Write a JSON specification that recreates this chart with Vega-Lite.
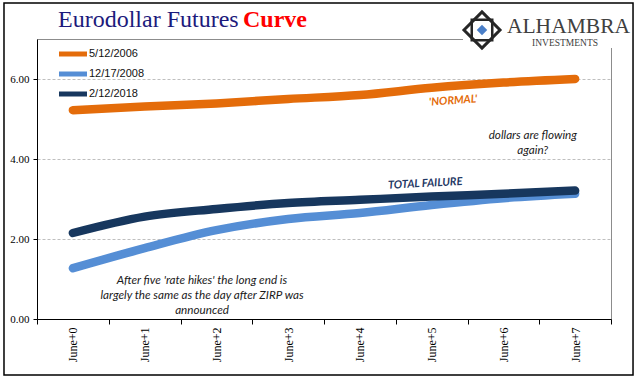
{
  "$schema": "https://vega.github.io/schema/vega-lite/v6.json",
  "width": 574,
  "height": 280,
  "autosize": {"type": "none"},
  "padding": {"left": 37, "top": 39, "right": 30, "bottom": 62},
  "background": "white",
  "config": {
    "view": {"stroke": "#8c8c8c", "strokeWidth": 1},
    "font": "Liberation Serif"
  },
  "datasets": {
    "curves": [
      {"contract": "June+0", "date": "5/12/2006", "rate": 5.22},
      {"contract": "June+1", "date": "5/12/2006", "rate": 5.31},
      {"contract": "June+2", "date": "5/12/2006", "rate": 5.39},
      {"contract": "June+3", "date": "5/12/2006", "rate": 5.5},
      {"contract": "June+4", "date": "5/12/2006", "rate": 5.6},
      {"contract": "June+5", "date": "5/12/2006", "rate": 5.78},
      {"contract": "June+6", "date": "5/12/2006", "rate": 5.91},
      {"contract": "June+7", "date": "5/12/2006", "rate": 6.0},
      {"contract": "June+0", "date": "12/17/2008", "rate": 1.27},
      {"contract": "June+1", "date": "12/17/2008", "rate": 1.77},
      {"contract": "June+2", "date": "12/17/2008", "rate": 2.22},
      {"contract": "June+3", "date": "12/17/2008", "rate": 2.5},
      {"contract": "June+4", "date": "12/17/2008", "rate": 2.65},
      {"contract": "June+5", "date": "12/17/2008", "rate": 2.85},
      {"contract": "June+6", "date": "12/17/2008", "rate": 3.02},
      {"contract": "June+7", "date": "12/17/2008", "rate": 3.13},
      {"contract": "June+0", "date": "2/12/2018", "rate": 2.15},
      {"contract": "June+1", "date": "2/12/2018", "rate": 2.56},
      {"contract": "June+2", "date": "2/12/2018", "rate": 2.75},
      {"contract": "June+3", "date": "2/12/2018", "rate": 2.9},
      {"contract": "June+4", "date": "2/12/2018", "rate": 2.98},
      {"contract": "June+5", "date": "2/12/2018", "rate": 3.06},
      {"contract": "June+6", "date": "2/12/2018", "rate": 3.13},
      {"contract": "June+7", "date": "2/12/2018", "rate": 3.21}
    ],
    "notes": [
      {"kind": "normal", "x": 5.3, "y": 5.45, "text": "'NORMAL'"},
      {"kind": "failure", "x": 4.91, "y": 3.38, "text": "TOTAL FAILURE"},
      {"kind": "plain", "x": 6.41, "y": 4.6, "text": "dollars are flowing\nagain?"},
      {"kind": "plain", "x": 1.8, "y": 0.975, "text": "After five 'rate hikes'  the long end is\nlargely the same as the day after ZIRP was\nannounced"}
    ]
  },
  "layer": [
    {
      "data": {"name": "curves"},
      "mark": {"type": "line", "strokeWidth": 8.5, "strokeCap": "round", "strokeJoin": "round", "interpolate": "monotone"},
      "encoding": {
        "x": {
          "field": "contract",
          "type": "ordinal",
          "bandPosition": 0.5,
          "sort": ["June+0", "June+1", "June+2", "June+3", "June+4", "June+5", "June+6", "June+7"],
          "scale": {"type": "band", "paddingInner": 0, "paddingOuter": 0},
          "axis": {
            "title": null,
            "labelAngle": 270,
            "labelFont": "Liberation Serif",
            "labelFontSize": 12,
            "labelColor": "black",
            "domainColor": "black",
            "tickColor": "black",
            "tickSize": 5,
            "tickBand": "extent",
            "grid": false,
            "labelPadding": 3
          }
        },
        "y": {
          "field": "rate",
          "type": "quantitative",
          "scale": {"domain": [0, 7], "nice": false},
          "axis": {
            "title": null,
            "values": [0, 2, 4, 6],
            "format": ".2f",
            "labelFont": "Liberation Serif",
            "labelFontSize": 11,
            "labelColor": "black",
            "domainColor": "black",
            "tickColor": "black",
            "tickSize": 4,
            "grid": true,
            "gridDash": [3, 2],
            "gridColor": "#bfbfbf",
            "labelPadding": 4
          }
        },
        "color": {
          "field": "date",
          "type": "nominal",
          "scale": {"domain": ["5/12/2006", "12/17/2008", "2/12/2018"], "range": ["#E46C0A", "#558ED5", "#17375E"]},
          "legend": {
            "title": null,
            "orient": "none",
            "legendX": 27,
            "legendY": 6,
            "symbolType": "M-2.24,0H2.24",
            "symbolSize": 156,
            "symbolStrokeWidth": 5,
            "symbolFillColor": "transparent",
            "labelFont": "Liberation Sans",
            "labelFontSize": 11,
            "labelColor": "#111",
            "labelOffset": 7,
            "rowPadding": 0
          }
        }
      }
    },
    {
      "layer": [
        {
          "data": {"values": [{}]},
          "mark": {"type": "rect", "fill": "white", "clip": false},
          "encoding": {
            "x": {"datum": 5.437, "type": "quantitative", "scale": {"domain": [-0.5, 7.5], "nice": false, "zero": false}, "axis": null},
            "x2": {"datum": 7.69},
            "y": {"datum": 6.775, "type": "quantitative", "scale": {"domain": [0, 7], "nice": false}},
            "y2": {"datum": 7.85}
          }
        },
        {
          "data": {"values": [{}]},
          "mark": {"type": "rect", "filled": false, "stroke": "black", "strokeWidth": 1.5, "clip": false},
          "encoding": {
            "x": {"datum": -0.96, "type": "quantitative"},
            "x2": {"datum": 7.807},
            "y": {"datum": -1.4, "type": "quantitative"},
            "y2": {"datum": 7.9}
          }
        },
        {
          "data": {"values": [{}]},
          "mark": {"type": "text", "font": "Liberation Serif", "fontSize": 24, "color": "#1C1A7C", "align": "left", "baseline": "alphabetic", "clip": false},
          "encoding": {
            "x": {"datum": -0.207, "type": "quantitative"},
            "y": {"datum": 7.3, "type": "quantitative"},
            "text": {"value": "Eurodollar Futures"}
          }
        },
        {
          "data": {"values": [{}]},
          "mark": {"type": "text", "font": "Liberation Serif", "fontSize": 24, "fontWeight": "bold", "color": "#FF0000", "align": "left", "baseline": "alphabetic", "clip": false},
          "encoding": {
            "x": {"datum": 2.371, "type": "quantitative"},
            "y": {"datum": 7.3, "type": "quantitative"},
            "text": {"value": "Curve"}
          }
        },
        {
          "data": {"values": [{}]},
          "mark": {"type": "point", "shape": "diamond", "size": 1300, "filled": false, "stroke": "#262626", "strokeWidth": 3, "opacity": 1, "clip": false},
          "encoding": {
            "x": {"datum": 5.702, "type": "quantitative"},
            "y": {"datum": 7.225, "type": "quantitative"}
          }
        },
        {
          "data": {"values": [{}]},
          "mark": {"type": "point", "shape": "square", "size": 420, "filled": false, "stroke": "#262626", "strokeWidth": 2.5, "opacity": 1, "clip": false},
          "encoding": {
            "x": {"datum": 5.702, "type": "quantitative"},
            "y": {"datum": 7.225, "type": "quantitative"}
          }
        },
        {
          "data": {"values": [{}]},
          "mark": {"type": "point", "shape": "diamond", "size": 110, "filled": true, "color": "#4A7FC8", "opacity": 1, "clip": false},
          "encoding": {
            "x": {"datum": 5.702, "type": "quantitative"},
            "y": {"datum": 7.225, "type": "quantitative"}
          }
        },
        {
          "data": {"values": [{}]},
          "mark": {"type": "text", "font": "Liberation Serif", "fontSize": 21.5, "color": "#404040", "align": "left", "baseline": "alphabetic", "clip": false},
          "encoding": {
            "x": {"datum": 6.05, "type": "quantitative"},
            "y": {"datum": 7.14, "type": "quantitative"},
            "text": {"value": "ALHAMBRA"}
          }
        },
        {
          "data": {"values": [{}]},
          "mark": {"type": "text", "font": "Liberation Serif", "fontSize": 9.5, "color": "#404040", "align": "center", "baseline": "alphabetic", "clip": false},
          "encoding": {
            "x": {"datum": 6.86, "type": "quantitative"},
            "y": {"datum": 6.83, "type": "quantitative"},
            "text": {"value": "INVESTMENTS"}
          }
        },
        {
          "data": {"name": "notes"},
          "transform": [{"filter": "datum.kind === 'normal'"}],
          "mark": {"type": "text", "font": "Lato", "fontSize": 11, "fontWeight": "bold", "fontStyle": "italic", "color": "#E46C0A", "angle": 356, "baseline": "middle"},
          "encoding": {
            "x": {"field": "x", "type": "quantitative"},
            "y": {"field": "y", "type": "quantitative"},
            "text": {"field": "text"}
          }
        },
        {
          "data": {"name": "notes"},
          "transform": [{"filter": "datum.kind === 'failure'"}],
          "mark": {"type": "text", "font": "Lato", "fontSize": 11, "fontWeight": "bold", "fontStyle": "italic", "color": "#1F3864", "angle": 357, "baseline": "middle"},
          "encoding": {
            "x": {"field": "x", "type": "quantitative"},
            "y": {"field": "y", "type": "quantitative"},
            "text": {"field": "text"}
          }
        },
        {
          "data": {"name": "notes"},
          "transform": [{"filter": "datum.kind === 'plain'"}],
          "mark": {"type": "text", "font": "Lato", "fontSize": 11.7, "fontStyle": "italic", "color": "#1a1a1a", "baseline": "middle", "lineBreak": "\n", "lineHeight": 15},
          "encoding": {
            "x": {"field": "x", "type": "quantitative"},
            "y": {"field": "y", "type": "quantitative"},
            "text": {"field": "text"}
          }
        }
      ]
    }
  ],
  "resolve": {"scale": {"x": "independent"}}
}
